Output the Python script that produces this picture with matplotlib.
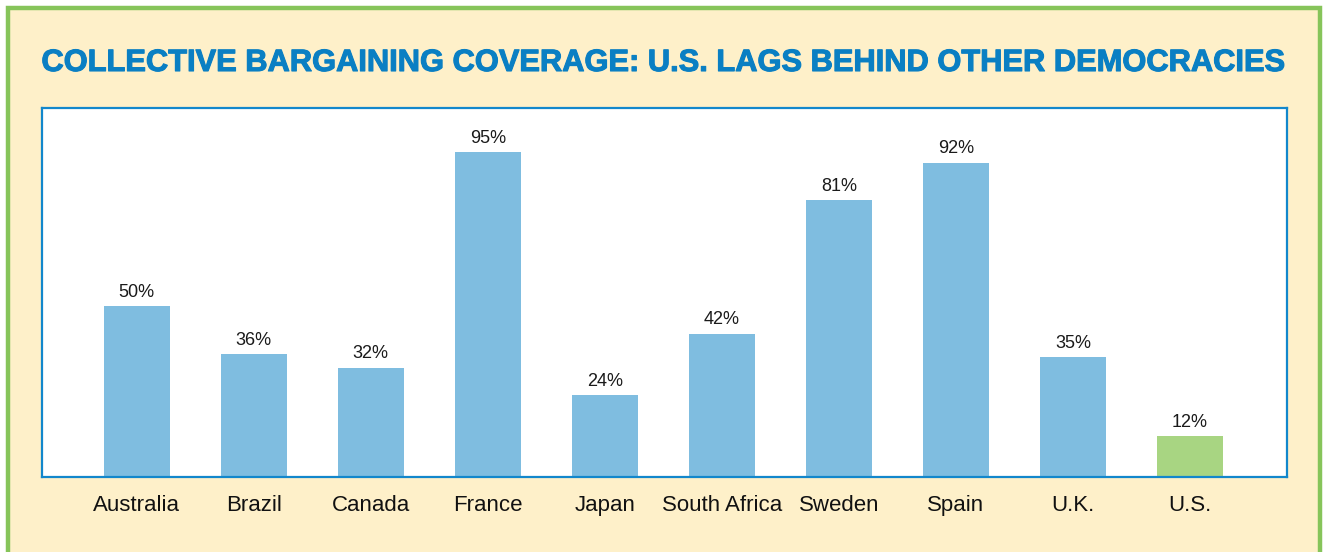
"""
Collective bargaining coverage bar chart
"""
import matplotlib
matplotlib.use('Agg')
import matplotlib.pyplot as plt
import matplotlib.patheffects as pe
from matplotlib.patches import Rectangle

# Data
countries = ['Australia', 'Brazil', 'Canada', 'France', 'Japan',
             'South Africa', 'Sweden', 'Spain', 'U.K.', 'U.S.']
coverage = [50, 36, 32, 95, 24, 42, 81, 92, 35, 12]
value_labels = ['50%', '36%', '32%', '95%', '24%', '42%', '81%', '92%', '35%', '12%']

BG = '#FEF0C9'
BLUE_BAR = '#7FBDE0'
GREEN_BAR = '#A8D582'
TITLE_BLUE = '#0A7FC3'
FRAME_GREEN = '#86C45A'

plt.rcParams['font.family'] = ['Liberation Sans', 'DejaVu Sans']

fig = plt.figure(figsize=(13.24, 5.52), dpi=100)
fig.patch.set_facecolor('white')

# cream panel with green frame (runs off the bottom edge)
W, H = 1324, 552
panel = Rectangle((8 / W, -0.05), (1320 - 8) / W, (552 - 8) / H + 0.05,
                  transform=fig.transFigure, facecolor=BG,
                  edgecolor=FRAME_GREEN, linewidth=3.2, zorder=-1)
fig.patches.append(panel)

# title
fig.text((42 + 1288) / 2 / W, 1 - 63 / H,
         'COLLECTIVE BARGAINING COVERAGE: U.S. LAGS BEHIND OTHER DEMOCRACIES',
         ha='center', va='center', fontsize=22.2, fontweight='bold',
         color=TITLE_BLUE,
         path_effects=[pe.withStroke(linewidth=0.8, foreground=TITLE_BLUE)])

ax = fig.add_axes([42 / W, 1 - 477 / H, (1287 - 42) / W, (477 - 108) / H])
ax.set_facecolor('white')

colors = [BLUE_BAR] * (len(countries) - 1) + [GREEN_BAR]
x = list(range(len(countries)))
ax.bar(x, coverage, width=0.565, color=colors, zorder=2)

for xi, v, lab in zip(x, coverage, value_labels):
    ax.text(xi, v + 1.6, lab, ha='center', va='bottom', fontsize=13,
            color='#1a1a1a')

ax.set_xlim(-0.81, 9.83)
ax.set_ylim(0, 108)
ax.set_yticks([])
ax.set_xticks(x)
ax.set_xticklabels(countries, fontsize=16, color='#111111')
ax.tick_params(axis='x', length=0, pad=13)

for s in ax.spines.values():
    s.set_color('#1287CC')
    s.set_linewidth(1.6)

plt.savefig('out.png', dpi=100, facecolor=fig.get_facecolor())
plt.close()
